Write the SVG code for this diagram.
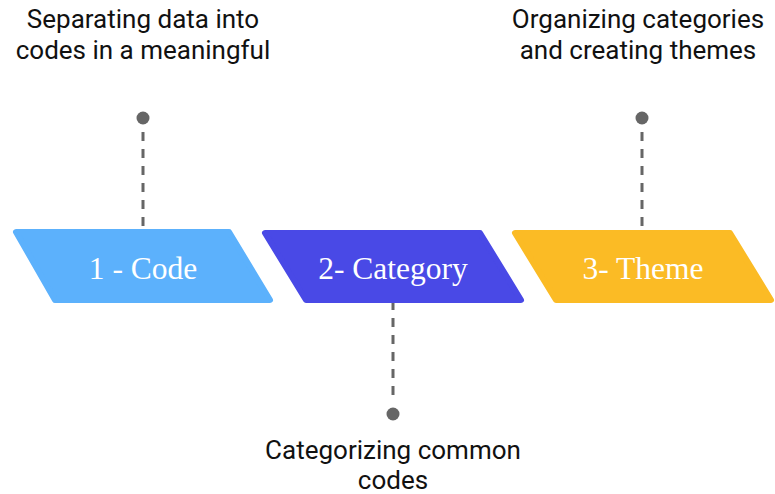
<svg xmlns="http://www.w3.org/2000/svg" width="775" height="494" viewBox="0 0 775 494">
  <style>
    .step { stroke-linejoin: round; stroke-width: 6; }
    .step-label { font-family: "Liberation Serif", "Times New Roman", serif; font-size: 31.5px; fill: #ffffff; text-anchor: middle; }
    .note { font-family: Roboto, "Liberation Sans", sans-serif; font-size: 26px; fill: #111111; text-anchor: middle; }
    .link { stroke: #666666; stroke-width: 3; stroke-dasharray: 9 8; fill: none; }
    .pin { fill: #666666; }
  </style>
  <rect width="775" height="494" fill="#ffffff"/>

  <!-- dashed connectors with their end dots -->
  <g id="connectors">
    <line class="link" x1="143" y1="132" x2="143" y2="232"/>
    <circle class="pin" cx="143" cy="118" r="6.5"/>
    <line class="link" x1="393" y1="301" x2="393" y2="401"/>
    <circle class="pin" cx="393" cy="414" r="6.5"/>
    <line class="link" x1="642" y1="132" x2="642" y2="232"/>
    <circle class="pin" cx="642" cy="118" r="6.5"/>
  </g>

  <g id="step-code">
    <path class="step" d="M16 232 L229 232 L270 300 L55 300 Z" fill="#5cb1fc" stroke="#5cb1fc"/>
    <text class="step-label" x="143" y="279">1 - Code</text>
  </g>

  <g id="step-category">
    <path class="step" d="M265 233 L480 233 L521 300 L306 300 Z" fill="#4949e6" stroke="#4949e6"/>
    <text class="step-label" x="393" y="279">2- Category</text>
  </g>

  <g id="step-theme">
    <path class="step" d="M515 233 L730 233 L771 300 L556 300 Z" fill="#fbbb25" stroke="#fbbb25"/>
    <text class="step-label" x="643" y="279">3- Theme</text>
  </g>

  <g id="note-code">
    <text class="note" x="143" y="28">Separating data into</text>
    <text class="note" x="143" y="59">codes in a meaningful</text>
  </g>

  <g id="note-category">
    <text class="note" x="393" y="459">Categorizing common</text>
    <text class="note" x="393" y="489">codes</text>
  </g>

  <g id="note-theme">
    <text class="note" x="638" y="28">Organizing categories</text>
    <text class="note" x="638" y="59">and creating themes</text>
  </g>
</svg>
